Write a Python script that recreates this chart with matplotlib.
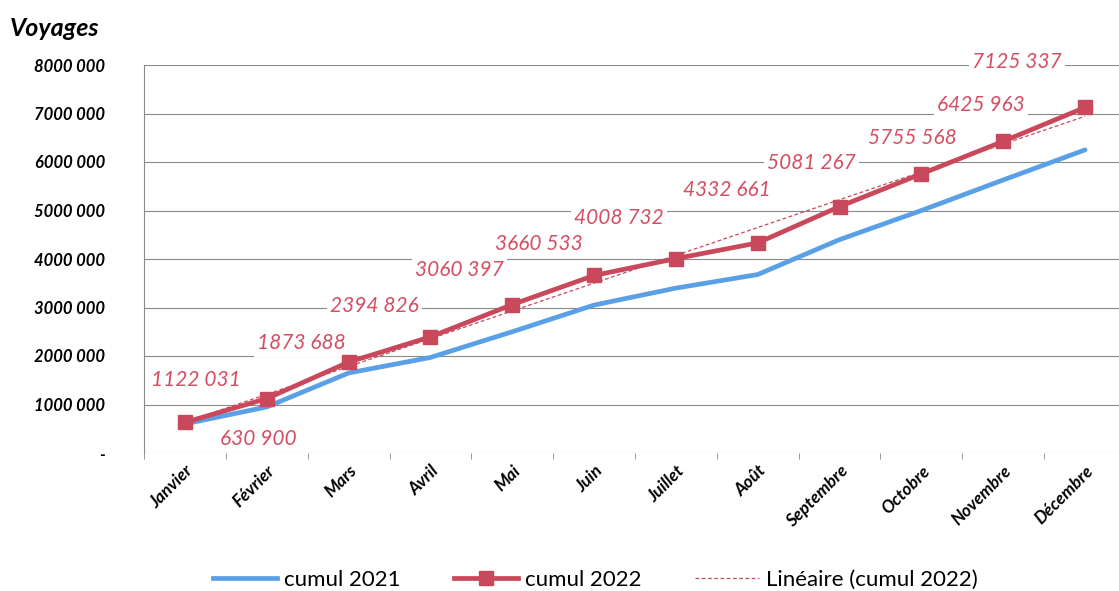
import numpy as np
import matplotlib
matplotlib.use("Agg")
import matplotlib.pyplot as plt
from matplotlib.lines import Line2D

months = ["Janvier", "Février", "Mars", "Avril", "Mai", "Juin", "Juillet",
          "Août", "Septembre", "Octobre", "Novembre", "Décembre"]
cumul_2021 = [600000, 950000, 1650000, 1970000, 2500000, 3050000, 3400000,
              3680000, 4400000, 5000000, 5630000, 6250000]
cumul_2022 = [630900, 1122031, 1873688, 2394826, 3060397, 3660533, 4008732,
              4332661, 5081267, 5755568, 6425963, 7125337]
yticks = [0, 1000000, 2000000, 3000000, 4000000, 5000000, 6000000, 7000000, 8000000]
# label offsets (points) relative to each 2022 point
label_offsets = [(70, -16), (-68, 18), (-45, 18), (-54, 30), (-51, 33), (-53, 30),
                 (-55, 39), (-30, 51), (-27, 42), (-9, 34), (-21, 35), (-65, 44)]

plt.rcParams['font.family'] = ['Lato', 'DejaVu Sans']

fig = plt.figure(figsize=(11.19, 5.91), dpi=100)
ax = fig.add_axes([144/1119, (591-453)/591, 982/1119, 388/591])

x = np.arange(len(months))
red = "#C9485B"
blue = "#5AA0E6"
lab_col = "#D44F63"

ax.plot(x, cumul_2021, color=blue, lw=3.4, zorder=4, solid_capstyle='round')
ax.plot(x, cumul_2022, color=red, lw=3.4, marker='s', ms=9.5, zorder=5)
coef = np.polyfit(x, cumul_2022, 1)
ax.plot(x, np.polyval(coef, x), color=red, lw=0.9, ls=(0, (3, 2)), zorder=6)

def fmt(v):
    v = int(round(v))
    if v == 0:
        return "-"
    return f"{v // 1000} {v % 1000:03d}" if v >= 1000 else str(v)

for xi, v, (dx, dy) in zip(x, cumul_2022, label_offsets):
    ax.annotate(fmt(v), (xi, v), xytext=(dx * 0.75, dy * 0.75), textcoords='offset points',
                ha='center', va='center', fontsize=15, style='italic', color=lab_col,
                bbox=dict(boxstyle='square,pad=0.15', fc='white', ec='none'), zorder=3)

ax.set_xlim(-0.5, 11.5)
ax.set_ylim(0, 8000000)
ax.set_yticks(yticks)
ax.set_yticklabels([fmt(v) if v else "-" for v in yticks], fontsize=12,
                   fontweight='bold', style='italic')
ax.yaxis.grid(True, color='#8a8a8a', lw=0.8)
ax.set_axisbelow(True)
ax.tick_params(axis='y', length=0, pad=28)

ax.set_xticks(x)
ax.set_xticklabels(months, rotation=45, ha='right', rotation_mode='anchor',
                   fontsize=12.5, fontweight='bold', style='italic')
ax.tick_params(axis='x', length=0, pad=7)
ax.set_xticks(np.arange(-0.5, 12, 1), minor=True)
ax.tick_params(axis='x', which='minor', length=4, color='#8a8a8a', direction='out')

for s in ['top', 'right', 'bottom']:
    ax.spines[s].set_visible(False)
ax.spines['left'].set_color('#8a8a8a')
ax.spines['left'].set_linewidth(0.8)

fig.text(10/1119, 1 - 28/591, "Voyages", fontsize=18, fontweight='bold',
         style='italic', va='center', ha='left')

handles = [Line2D([], [], color=blue, lw=3.4),
           Line2D([], [], color=red, lw=3.4, marker='s', ms=9.5),
           Line2D([], [], color=red, lw=0.9, ls=(0, (3, 2)))]
fig.legend(handles, ["cumul 2021", "cumul 2022", "Linéaire (cumul 2022)"],
           loc='center', bbox_to_anchor=(0.532, 1 - 580/591), ncol=3, frameon=False,
           fontsize=16, handlelength=2.9, columnspacing=2.4, handletextpad=0.3)

fig.savefig("out.png", dpi=100)
